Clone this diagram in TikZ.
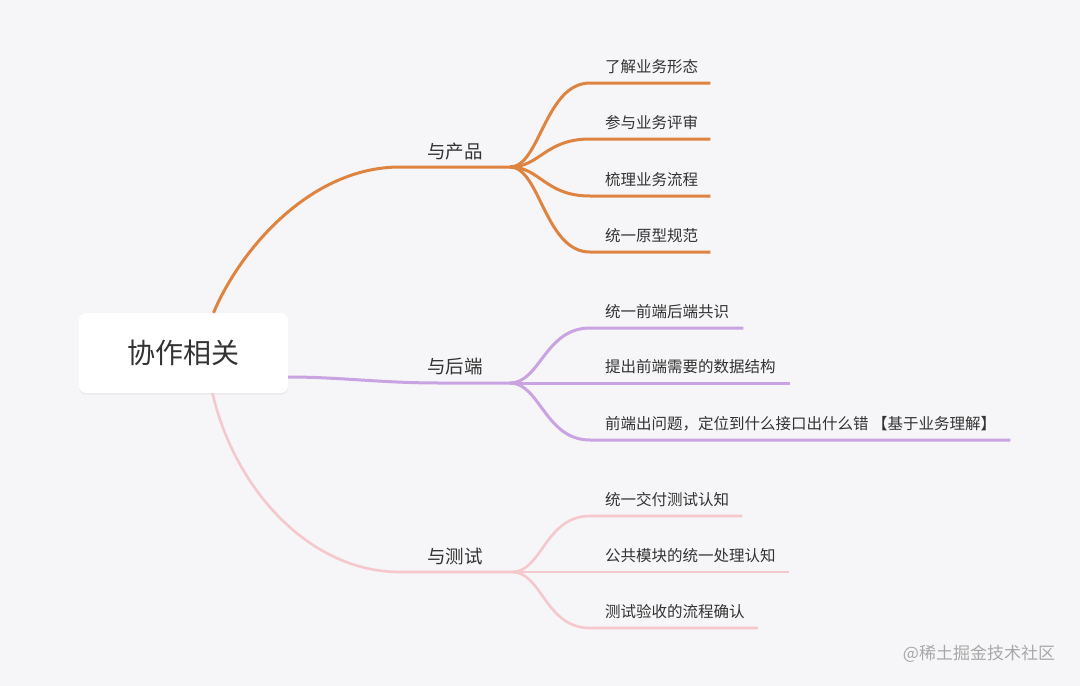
\documentclass[tikz,border=0pt]{standalone}
\usepackage{fontspec}
\setmainfont{Noto Sans CJK SC}
\usetikzlibrary{shadows}

\definecolor{bgc}{HTML}{F6F5F7}
\definecolor{prodc}{HTML}{DE8440}
\definecolor{backc}{HTML}{C9A3E2}
\definecolor{testc}{HTML}{F5C8CE}
\definecolor{txtc}{HTML}{333333}
\definecolor{markc}{HTML}{A8A8A8}

\begin{document}
\begin{tikzpicture}[
    x=1pt, y=-1pt,
    root/.style={rectangle, rounded corners=7pt, fill=white, minimum width=209pt, minimum height=80pt,
                 font=\fontsize{28}{30}\selectfont, text=txtc,
                 drop shadow={opacity=0.10, shadow xshift=0pt, shadow yshift=-1.5pt}},
    topic/.style={font=\fontsize{18.5}{20}\selectfont, text=txtc, inner sep=0pt},
    leaf/.style={anchor=west, font=\fontsize{15.5}{17}\selectfont, text=txtc, inner sep=0pt},
    wmark/.style={font=\fontsize{17}{19}\selectfont, text=markc, inner sep=0pt},
    prod/.style={draw=prodc, line width=3pt},
    back/.style={draw=backc, line width=3pt},
    test/.style={draw=testc, line width=2.6pt}
]

% ---- latar ----
\fill[bgc] (0,0) rectangle (1080,686);

% ---- node pusat ----
\node[root] (root) at (183.5,353) {协作相关};

% ---- cabang 与产品 ----
\node[topic] (tProd) at (455,152) {与产品};
\coordinate (jProd) at (510,167);
\node[leaf] (p1) at (605,67)  {了解业务形态};
\node[leaf] (p2) at (605,123) {参与业务评审};
\node[leaf] (p3) at (605,180) {梳理业务流程};
\node[leaf] (p4) at (605,236) {统一原型规范};

\draw[prod] ([xshift=30pt]root.north) .. controls (240,250) and (310,167) .. (400,167) -- (jProd);
\foreach \n in {p1,p2,p3,p4}
  \draw[prod] (jProd) .. controls +(30,0) and +(-45,0) .. ([shift={(-15pt,-16pt)}]\n.west) -- ([shift={(12pt,-16pt)}]\n.east);

% ---- cabang 与后端 ----
\node[topic] (tBack) at (455,367) {与后端};
\coordinate (jBack) at (510,383);
\node[leaf] (b1) at (605,312) {统一前端后端共识};
\node[leaf] (b2) at (605,367) {提出前端需要的数据结构};
\node[leaf] (b3) at (605,424) {前端出问题，定位到什么接口出什么错 【基于业务理解】};

\draw[back] ([yshift=-24pt]root.east) .. controls (340,377) and (380,383) .. (440,383) -- (jBack);
\foreach \n in {b1,b2,b3}
  \draw[back] (jBack) .. controls +(30,0) and +(-45,0) .. ([shift={(-15pt,-16pt)}]\n.west) -- ([shift={(14pt,-16pt)}]\n.east);

% ---- cabang 与测试 ----
\node[topic] (tTest) at (455,556) {与测试};
\coordinate (jTest) at (512,572);
\node[leaf] (t1) at (605,500) {统一交付测试认知};
\node[leaf] (t2) at (605,556) {公共模块的统一处理认知};
\node[leaf] (t3) at (605,612) {测试验收的流程确认};

\draw[test] ([xshift=29pt]root.south) .. controls (235,490) and (310,572) .. (400,572) -- (jTest);
\foreach \n in {t1,t2,t3}
  \draw[test] (jTest) .. controls +(30,0) and +(-45,0) .. ([shift={(-15pt,-16pt)}]\n.west) -- ([shift={(13pt,-16pt)}]\n.east);

% ---- watermark ----
\node[wmark] (wm) at (979,654) {@稀土掘金技术社区};

\end{tikzpicture}
\end{document}
